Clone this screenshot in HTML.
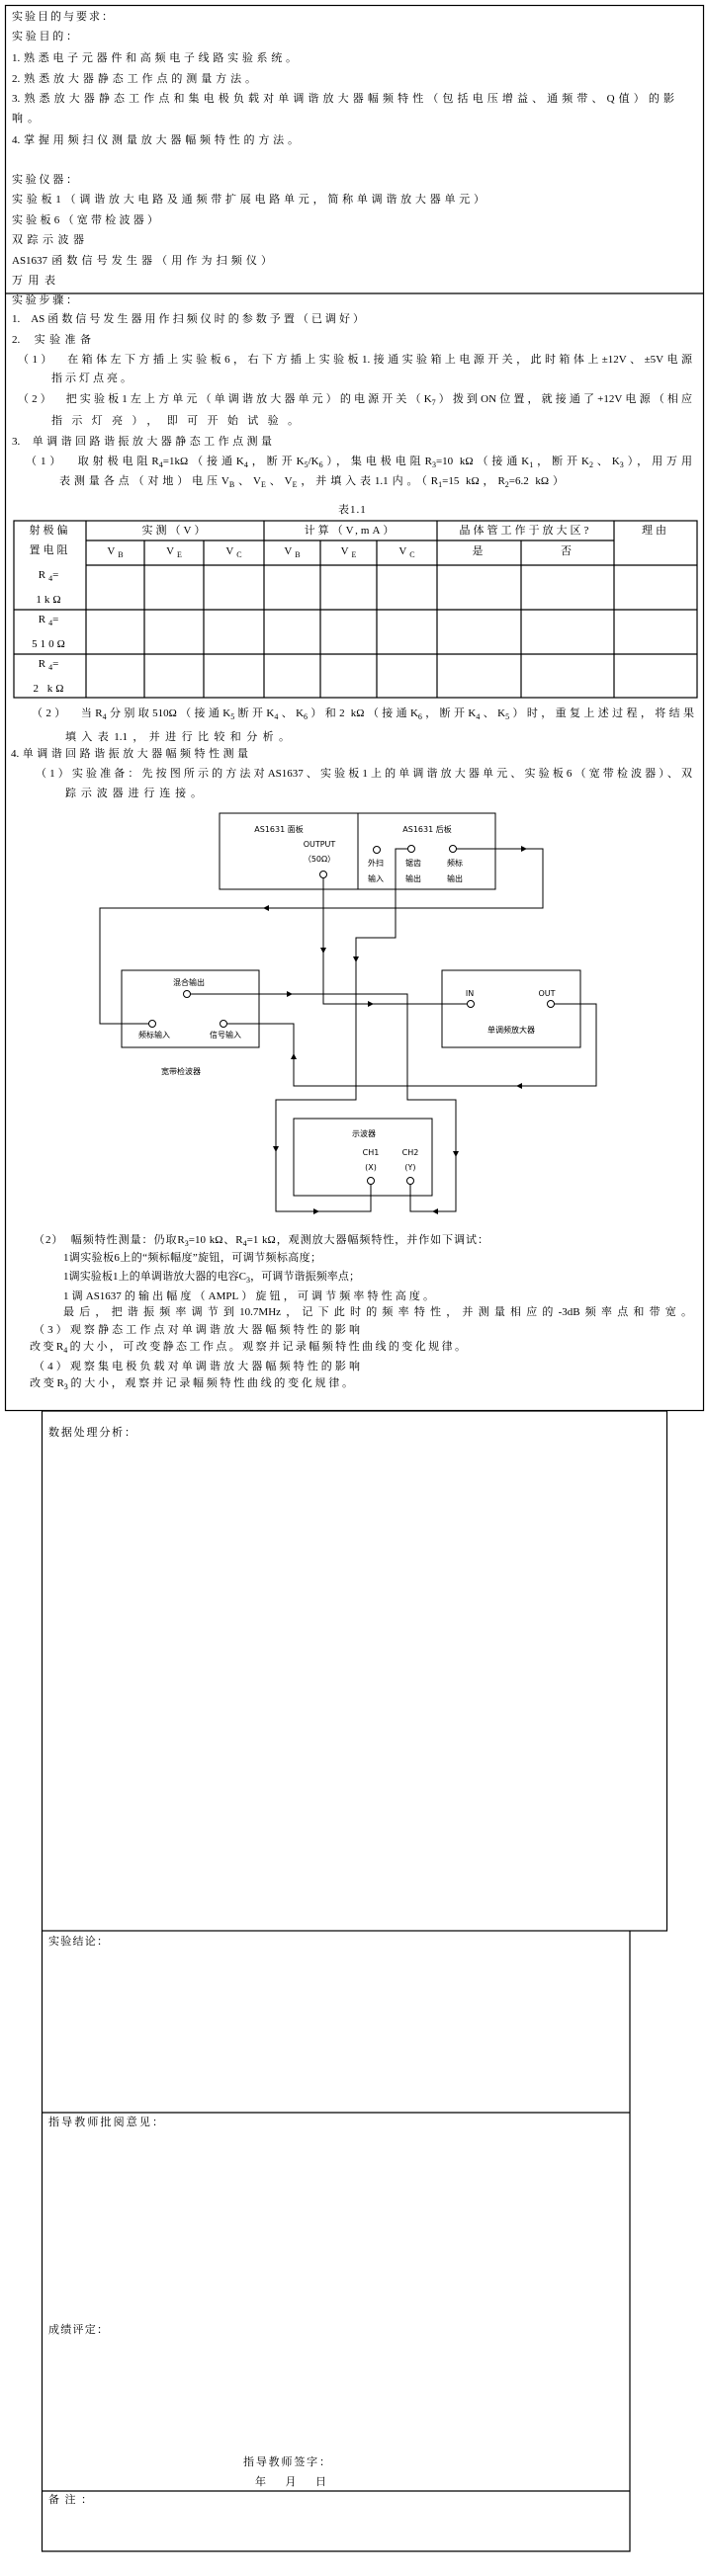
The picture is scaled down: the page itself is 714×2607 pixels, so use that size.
<!DOCTYPE html>
<html><head><meta charset="utf-8"><style>
*{margin:0;padding:0;box-sizing:border-box}
body{width:714px;height:2607px;background:#fff;position:relative;overflow:hidden;font-family:"Liberation Serif","Noto Serif CJK SC",serif;color:#000}
.t{position:absolute;font-size:11px;letter-spacing:5px;line-height:16px;white-space:nowrap}
.j{position:absolute;font-size:11px;line-height:16px;text-align:justify;text-align-last:justify;letter-spacing:0;height:16px}
.t sub,.j sub{font-size:8px;letter-spacing:0;vertical-align:-3px;line-height:0}
.c{position:absolute;font-size:11px;line-height:16px;white-space:nowrap;text-align:center;letter-spacing:3px}
.c sub{font-size:8px;letter-spacing:0;vertical-align:-3px;line-height:0}
svg{position:absolute;left:0;top:0}
</style></head><body>
<svg width="714" height="2607" viewBox="0 0 714 2607">
<g fill="none" stroke="#000" stroke-width="1.2">
<rect x="5.5" y="5.5" width="706" height="1422"/>
<line x1="5.5" y1="297" x2="711.5" y2="297"/>
<rect x="14" y="527" width="691" height="179"/>
<line x1="87" y1="572" x2="705" y2="572"/>
<line x1="14" y1="617" x2="705" y2="617"/>
<line x1="14" y1="662" x2="705" y2="662"/>
<line x1="87" y1="547" x2="621" y2="547"/>
<line x1="87" y1="527" x2="87" y2="706"/>
<line x1="146" y1="547" x2="146" y2="706"/>
<line x1="206" y1="547" x2="206" y2="706"/>
<line x1="267" y1="527" x2="267" y2="706"/>
<line x1="324" y1="547" x2="324" y2="706"/>
<line x1="381" y1="547" x2="381" y2="706"/>
<line x1="442" y1="527" x2="442" y2="706"/>
<line x1="527" y1="547" x2="527" y2="706"/>
<line x1="621" y1="527" x2="621" y2="706"/>
<rect x="42.5" y="1428" width="632" height="526"/>
<polyline points="42.5,1954 42.5,2582 637,2582 637,1954"/>
<line x1="42.5" y1="2138" x2="637" y2="2138"/>
<line x1="42.5" y1="2521" x2="637" y2="2521"/>
</g>
<g fill="none" stroke="#000" stroke-width="1">
<rect x="222" y="823" width="279" height="77"/>
<line x1="362" y1="823" x2="362" y2="900"/>
<rect x="123" y="982" width="139" height="78"/>
<rect x="447" y="982" width="140" height="78"/>
<rect x="297" y="1132" width="140" height="78"/>
<polyline points="461.5,859 549,859 549,919 101,919 101,1036 150.5,1036"/>
<polyline points="327,888.5 327,1016 472.5,1016"/>
<polyline points="412.5,859 400,859 400,949 360,949 360,1113 279,1113 279,1226 375,1226 375,1198.5"/>
<polyline points="192.5,1006 412,1006 412,1113 461,1113 461,1226 415,1226 415,1198.5"/>
<polyline points="229.5,1036 297,1036 297,1099 603,1099 603,1016 560.5,1016"/>
<circle cx="327" cy="885" r="3.5"/><circle cx="381" cy="860" r="3.5"/><circle cx="416" cy="859" r="3.5"/><circle cx="458" cy="859" r="3.5"/>
<circle cx="189" cy="1006" r="3.5"/><circle cx="154" cy="1036" r="3.5"/><circle cx="226" cy="1036" r="3.5"/>
<circle cx="476" cy="1016" r="3.5"/><circle cx="557" cy="1016" r="3.5"/>
<circle cx="375" cy="1195" r="3.5"/><circle cx="415" cy="1195" r="3.5"/>
</g>
<g fill="#000">
<polygon points="533,859 527,856 527,862"/>
<polygon points="266,919 272,916 272,922"/>
<polygon points="327,965 324,959 330,959"/>
<polygon points="378,1016 372,1013 372,1019"/>
<polygon points="360,974 357,968 363,968"/>
<polygon points="279,1166 276,1160 282,1160"/>
<polygon points="323,1226 317,1223 317,1229"/>
<polygon points="296,1006 290,1003 290,1009"/>
<polygon points="461,1171 458,1165 464,1165"/>
<polygon points="437,1226 443,1223 443,1229"/>
<polygon points="297,1066 294,1072 300,1072"/>
<polygon points="522,1099 528,1096 528,1102"/>
</g>
<g font-family="'DejaVu Sans','Noto Sans CJK SC',sans-serif" font-size="8" text-anchor="middle" fill="#000">
<text x="282" y="842">AS1631 面板</text>
<text x="432" y="842">AS1631 后板</text>
<text x="323" y="857">OUTPUT</text>
<text x="323" y="872">（50Ω）</text>
<text x="380" y="876">外扫</text><text x="380" y="892">输入</text>
<text x="418" y="876">锯齿</text><text x="418" y="892">输出</text>
<text x="460" y="876">频标</text><text x="460" y="892">输出</text>
<text x="191" y="997">混合输出</text>
<text x="156" y="1050">频标输入</text>
<text x="228" y="1050">信号输入</text>
<text x="183" y="1087">宽带检波器</text>
<text x="475" y="1008">IN</text>
<text x="553" y="1008">OUT</text>
<text x="517" y="1045">单调频放大器</text>
<text x="368" y="1150">示波器</text>
<text x="375" y="1169">CH1</text><text x="375" y="1184">(X)</text>
<text x="415" y="1169">CH2</text><text x="415" y="1184">(Y)</text>
</g>
</svg>

<div class="j" style="left:12px;width:102px;top:9px">实验目的与要求：</div>
<div class="j" style="left:12px;width:66px;top:29px">实验目的：</div>
<div class="j" style="left:12px;width:288px;top:51px">1.熟悉电子元器件和高频电子线路实验系统。</div>
<div class="j" style="left:12px;width:247px;top:72px">2.熟悉放大器静态工作点的测量方法。</div>
<div class="j" style="left:12px;width:670px;top:92px">3.熟悉放大器静态工作点和集电极负载对单调谐放大器幅频特性（包括电压增益、通频带、Q值）的影</div>
<div class="t" style="left:12px;top:112px">响。</div>
<div class="j" style="left:12px;width:290px;top:134px">4.掌握用频扫仪测量放大器幅频特性的方法。</div>
<div class="j" style="left:12px;width:66px;top:174px">实验仪器：</div>
<div class="j" style="left:12px;width:478px;top:194px">实验板1（调谐放大电路及通频带扩展电路单元，简称单调谐放大器单元）</div>
<div class="j" style="left:12px;width:148px;top:215px">实验板6（宽带检波器）</div>
<div class="j" style="left:12px;width:73px;top:235px">双踪示波器</div>
<div class="j" style="left:12px;width:263px;top:256px">AS1637函数信号发生器（用作为扫频仪）</div>
<div class="j" style="left:12px;width:44px;top:276px">万用表</div>
<div class="j" style="left:12px;width:66px;top:296px">实验步骤：</div>
<div class="j" style="left:12px;width:356px;top:315px">1.&nbsp; AS函数信号发生器用作扫频仪时的参数予置（已调好）</div>
<div class="j" style="left:12px;width:80px;top:336px">2.&nbsp; 实验准备</div>
<div class="j" style="left:18px;width:682px;top:356px">（1）&nbsp; 在箱体左下方插上实验板6，右下方插上实验板1.接通实验箱上电源开关，此时箱体上±12V、±5V电源</div>
<div class="j" style="left:52px;width:81px;top:375px">指示灯点亮。</div>
<div class="j" style="left:18px;width:682px;top:396px">（2）&nbsp; 把实验板1左上方单元（单调谐放大器单元）的电源开关（K<sub>7</sub>）拨到ON位置，就接通了+12V电源（相应</div>
<div class="j" style="left:52px;width:250px;top:418px">指示灯亮），即可开始试验。</div>
<div class="j" style="left:12px;width:263px;top:439px">3.&nbsp; 单调谐回路谐振放大器静态工作点测量</div>
<div class="j" style="left:26px;width:674px;top:459px">（1）&nbsp; 取射极电阻R<sub>4</sub>=1kΩ（接通K<sub>4</sub>，断开K<sub>5</sub>/K<sub>6</sub>），集电极电阻R<sub>3</sub>=10 kΩ（接通K<sub>1</sub>，断开K<sub>2</sub>、K<sub>3</sub>），用万用</div>
<div class="j" style="left:60px;width:510px;top:479px">表测量各点（对地）电压V<sub>B</sub>、V<sub>E</sub>、V<sub>E</sub>，并填入表1.1内。（R<sub>1</sub>=15 kΩ，R<sub>2</sub>=6.2 kΩ）</div>
<div class="t" style="left:342px;top:508px;letter-spacing:1px">表1.1</div>

<div class="c" style="left:14px;width:73px;top:529px">射极偏</div>
<div class="c" style="left:14px;width:73px;top:549px">置电阻</div>
<div class="c" style="left:87px;width:180px;top:529px">实测（V）</div>
<div class="c" style="left:267px;width:175px;top:529px">计算（V,mA）</div>
<div class="c" style="left:442px;width:179px;top:529px">晶体管工作于放大区?</div>
<div class="c" style="left:621px;width:84px;top:529px">理由</div>
<div class="c" style="left:87px;width:59px;top:550px">V<sub>B</sub></div>
<div class="c" style="left:146px;width:60px;top:550px">V<sub>E</sub></div>
<div class="c" style="left:206px;width:61px;top:550px">V<sub>C</sub></div>
<div class="c" style="left:267px;width:57px;top:550px">V<sub>B</sub></div>
<div class="c" style="left:324px;width:57px;top:550px">V<sub>E</sub></div>
<div class="c" style="left:381px;width:61px;top:550px">V<sub>C</sub></div>
<div class="c" style="left:442px;width:85px;top:550px">是</div>
<div class="c" style="left:527px;width:94px;top:550px">否</div>
<div class="c" style="left:14px;width:73px;top:574px">R<sub>4</sub>=</div>
<div class="c" style="left:14px;width:73px;top:599px">1kΩ</div>
<div class="c" style="left:14px;width:73px;top:619px">R<sub>4</sub>=</div>
<div class="c" style="left:14px;width:73px;top:644px">510Ω</div>
<div class="c" style="left:14px;width:73px;top:664px">R<sub>4</sub>=</div>
<div class="c" style="left:14px;width:73px;top:689px">2 kΩ</div>

<div class="j" style="left:32px;width:670px;top:714px">（2）&nbsp; 当R<sub>4</sub>分别取510Ω（接通K<sub>5</sub>断开K<sub>4</sub>、K<sub>6</sub>）和2 kΩ（接通K<sub>6</sub>，断开K<sub>4</sub>、K<sub>5</sub>）时，重复上述过程，将结果</div>
<div class="j" style="left:66px;width:227px;top:738px">填入表1.1，并进行比较和分析。</div>
<div class="j" style="left:11px;width:240px;top:755px">4.单调谐回路谐振放大器幅频特性测量</div>
<div class="j" style="left:36px;width:664px;top:775px">（1）实验准备：先按图所示的方法对AS1637、实验板1上的单调谐放大器单元、实验板6（宽带检波器）、双</div>
<div class="j" style="left:66px;width:138px;top:795px">踪示波器进行连接。</div>

<div class="j" style="left:34px;width:460px;top:1247px">（2）&nbsp; 幅频特性测量：仍取R<sub>3</sub>=10 kΩ、R<sub>4</sub>=1 kΩ，观测放大器幅频特性，并作如下调试：</div>
<div class="j" style="left:64px;width:261px;top:1265px">1调实验板6上的“频标幅度”旋钮，可调节频标高度；</div>
<div class="j" style="left:64px;width:300px;top:1284px">1调实验板1上的单调谐放大器的电容C<sub>3</sub>，可调节谐振频率点；</div>
<div class="j" style="left:64px;width:375px;top:1304px">1调AS1637的输出幅度（AMPL）旋钮，可调节频率特性高度。</div>
<div class="j" style="left:64px;width:636px;top:1320px">最后，把谐振频率调节到10.7MHz，记下此时的频率特性，并测量相应的-3dB频率点和带宽。</div>
<div class="j" style="left:34px;width:330px;top:1338px">（3）观察静态工作点对单调谐放大器幅频特性的影响</div>
<div class="j" style="left:30px;width:441px;top:1355px">改变R<sub>4</sub>的大小，可改变静态工作点。观察并记录幅频特性曲线的变化规律。</div>
<div class="j" style="left:34px;width:330px;top:1375px">（4）观察集电极负载对单调谐放大器幅频特性的影响</div>
<div class="j" style="left:30px;width:327px;top:1392px">改变R<sub>3</sub>的大小，观察并记录幅频特性曲线的变化规律。</div>

<div class="j" style="left:49px;width:88px;top:1442px">数据处理分析：</div>
<div class="j" style="left:49px;width:60px;top:1957px">实验结论：</div>
<div class="j" style="left:49px;width:116px;top:2140px">指导教师批阅意见：</div>
<div class="j" style="left:49px;width:60px;top:2350px">成绩评定：</div>
<div class="j" style="left:246px;width:88px;top:2484px">指导教师签字：</div>
<div class="j" style="left:258px;width:72px;top:2504px">年　月　日</div>
<div class="j" style="left:49px;width:44px;top:2522px">备注：</div>
</body></html>
